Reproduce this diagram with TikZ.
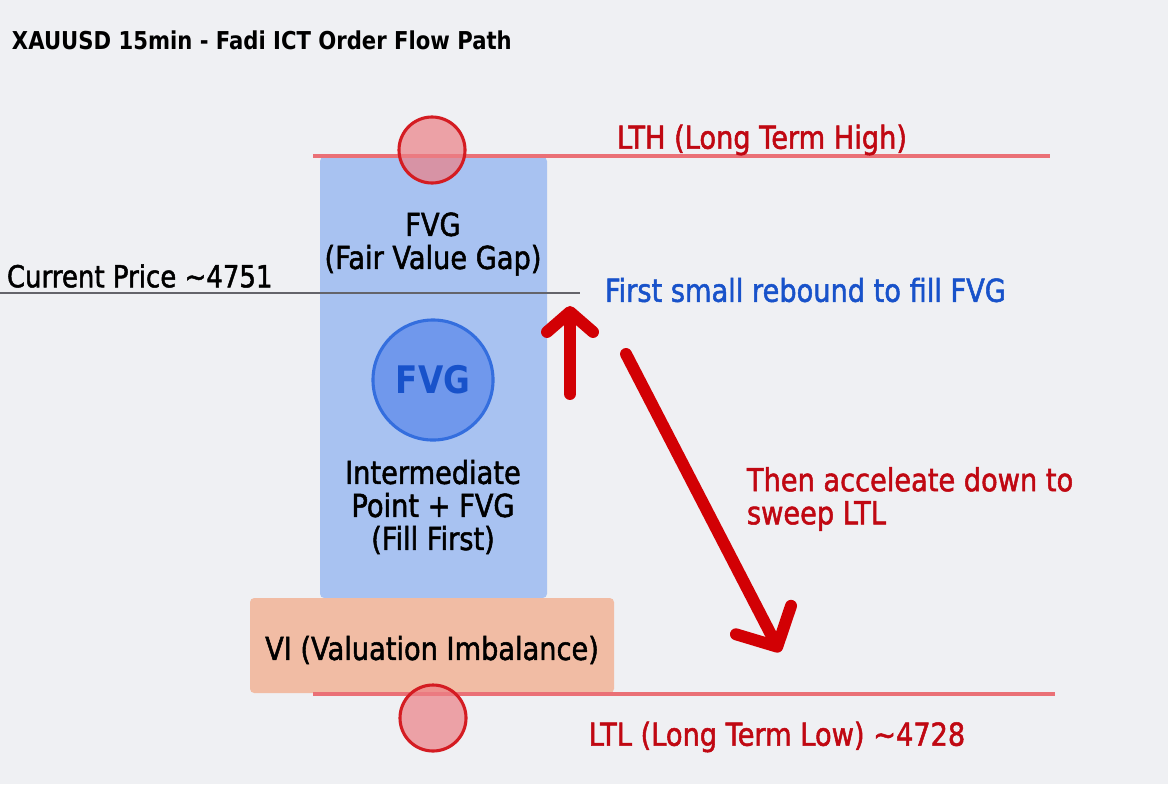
\documentclass[tikz,border=0pt]{standalone}
\usepackage{fontspec}
\setmainfont{DejaVu Sans}[FakeStretch=0.86]
\newfontfamily\labelfont{DejaVu Sans}[FakeStretch=0.86, FakeBold=1.6]
\usetikzlibrary{arrows.meta}
\definecolor{bgcol}{RGB}{239,240,243}
\definecolor{redtxt}{RGB}{192,8,18}
\definecolor{redarr}{RGB}{210,0,4}
\definecolor{redline}{RGB}{234,112,118}
\definecolor{redring}{RGB}{212,28,34}
\definecolor{redfill}{RGB}{236,128,134}
\definecolor{fvgbox}{RGB}{168,194,241}
\definecolor{fvgfill}{RGB}{112,152,236}
\definecolor{fvgring}{RGB}{52,110,222}
\definecolor{bluetxt}{RGB}{24,82,202}
\definecolor{vibox}{RGB}{241,188,164}
\definecolor{grayline}{RGB}{100,100,106}
\begin{document}
\begin{tikzpicture}[x=0.025cm,y=-0.025cm,
    lbl/.style={font=\labelfont\fontsize{22.5}{23.5}\selectfont, align=center},
    levelline/.style={redline, line width=2.2pt},
    extreme/.style={circle, draw=redring, fill=redfill, fill opacity=0.7, draw opacity=1,
      line width=2.2pt, minimum size=1.65cm, inner sep=0pt},
    movearrow/.style={redarr, line width=8.5pt, line cap=round}]
  \useasboundingbox[fill=bgcol] (0,0) rectangle (1168,784);
  % title
  \node[anchor=west, font=\bfseries\fontsize{17.5}{20}\selectfont] (title) at (7,40)
    {XAUUSD 15min - Fadi ICT Order Flow Path};
  % zones
  \fill[fvgbox, rounded corners=3pt] (320,157) rectangle (547,598);
  \fill[vibox, rounded corners=3pt] (250,598) rectangle (614,693);
  \draw[levelline] (313,156) -- (1050,156);
  \draw[levelline] (313,694) -- (1055,694);
  \draw[grayline, line width=1.8pt] (0,293) -- (580,293);
  \node[extreme] (lth) at (432,150) {};
  \node[extreme] (ltl) at (433,718) {};
  % labels
  \node[lbl, redtxt] (lthlbl) at (762,140) {LTH (Long Term High)};
  \node[lbl, redtxt] (ltllbl) at (777,737) {LTL (Long Term Low) \textasciitilde 4728};
  \node[lbl, anchor=west, font=\labelfont\fontsize{21.5}{23.5}\selectfont] (price) at (2,276)
    {Current Price \textasciitilde 4751};
  \node[lbl] (fvgname) at (433,244) {FVG\\(Fair Value Gap)};
  \node[circle, draw=fvgring, fill=fvgfill, line width=2.2pt, minimum size=3cm,
    text=bluetxt, font=\bfseries\fontsize{27}{30}\selectfont] (fvg) at (433,380) {FVG};
  \node[lbl] (mid) at (433,507) {Intermediate\\Point + FVG\\(Fill First)};
  \node[lbl] (vi) at (432,650) {VI (Valuation Imbalance)};
  \node[lbl, bluetxt, anchor=west] (rebound) at (600,290) {First small rebound to fill FVG};
  \node[lbl, redtxt, anchor=west, align=left] (sweep) at (742,499)
    {Then acceleate down to\\sweep LTL};
  % moves
  \coordinate (upA) at (570,394);
  \coordinate (upB) at (570,306);
  \coordinate (dnA) at (626,354);
  \coordinate (dnB) at (780,652);
  \draw[movearrow, -{Straight Barb[length=0.5cm, width=1.15cm, round]}] (upA) -- (upB);
  \draw[movearrow, -{Straight Barb[length=0.75cm, width=1.55cm, round]}] (dnA) -- (dnB);
\end{tikzpicture}
\end{document}
